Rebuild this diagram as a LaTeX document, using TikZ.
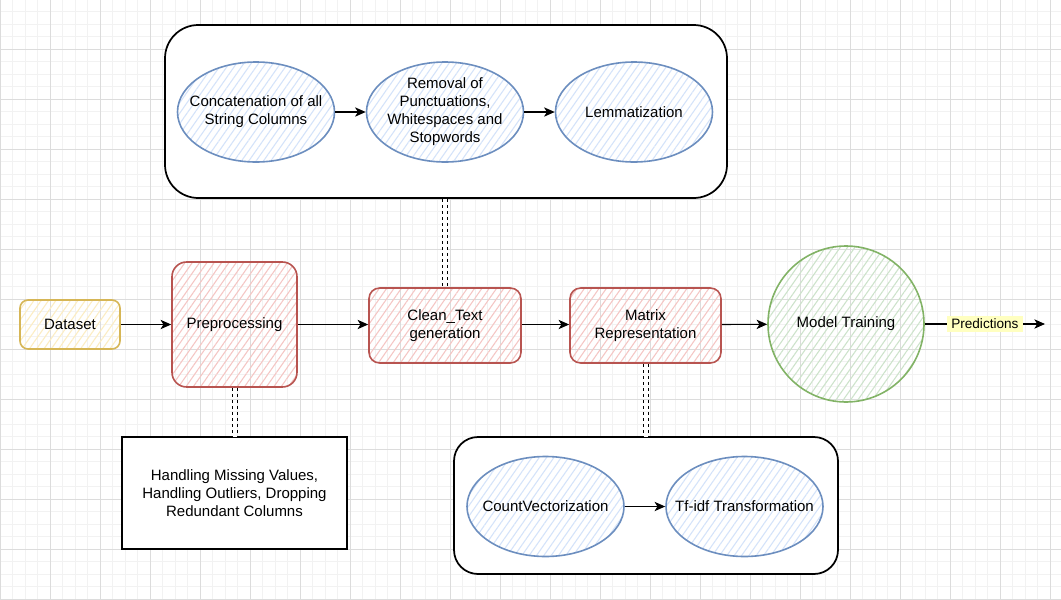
\documentclass[tikz,border=0pt]{standalone}
\usepackage{fontspec}
\setmainfont{Liberation Sans}
\usetikzlibrary{arrows.meta,patterns.meta,shapes.geometric}
\newcommand{\pxu}{0.75pt}
\definecolor{blueS}{HTML}{6C8EBF}
\definecolor{blueF}{HTML}{D4E3FA}
\definecolor{redS}{HTML}{B85450}
\definecolor{redF}{HTML}{F5C6C4}
\definecolor{yelS}{HTML}{D6B656}
\definecolor{yelF}{HTML}{FCEDC2}
\definecolor{greS}{HTML}{82B366}
\definecolor{greF}{HTML}{CDE3CB}
\definecolor{gridMinor}{HTML}{F2F2F2}
\definecolor{gridMajor}{HTML}{DCDCDC}
\definecolor{labelY}{HTML}{FFFFC0}
\begin{document}
\begin{tikzpicture}[x=0.75pt,y=-0.75pt,
  txt/.style={font=\fontsize{11.25}{13.5}\selectfont, align=center, inner sep=0pt, text=black},
  hatch/.style={pattern={Lines[angle=55,distance=4.5pt,line width=0.8pt]}, pattern color=#1},
  redbox/.style={txt, draw=redS, line width=1.2pt, rounded corners=#1, hatch=redF},
  bluell/.style={ellipse, draw=blueS, line width=1.2pt, hatch=blueF, minimum width=157*\pxu, minimum height=100*\pxu, inner sep=0pt},
  container/.style={draw=black, line width=1.3pt, fill=white, rounded corners=#1, inner sep=0pt},
  arr/.style={draw=black, line width=0.8pt, -{Stealth[length=8pt,width=7pt,inset=2.2pt]}},
  dd/.style={draw=black, line width=0.75pt, double=white, double distance=3pt, dash pattern=on 2.5pt off 2pt}
]
\useasboundingbox (0,0) rectangle (1061,600);
\fill[white] (0,0) rectangle (1061,600);
% grid
\foreach \k in {0,...,85} \draw[gridMinor, line width=0.75pt] (\k*12.5,0) -- (\k*12.5,600);
\foreach \k in {0,...,48} \draw[gridMinor, line width=0.75pt] (0,\k*12.5-1) -- (1061,\k*12.5-1);
\foreach \k in {0,...,21} \draw[gridMajor, line width=0.75pt] (\k*50,0) -- (\k*50,600);
\foreach \k in {0,...,12} \draw[gridMajor, line width=0.75pt] (0,\k*50-1) -- (1061,\k*50-1);

% top container
\node[container=25pt, minimum width=562*\pxu, minimum height=173*\pxu] (topc) at (446,111.5) {};
\node[bluell] (e1) at (256,112) {};
\node[txt] (e1t) at (e1) {Concatenation of all\\String Columns};
\node[bluell] (e2) at (445,112) {};
\node[txt] (e2t) at (e2) {Removal of\\Punctuations,\\Whitespaces and\\Stopwords};
\node[bluell] (e3) at (634,112) {};
\node[txt] (e3t) at (e3) {Lemmatization};
\draw[arr] (e1) -- (e2);
\draw[arr] (e2) -- (e3);

% main flow
\node[txt, draw=yelS, line width=1.2pt, rounded corners=6pt, hatch=yelF, minimum width=100*\pxu, minimum height=49*\pxu] (data) at (70,324.5) {Dataset};
\node[redbox=11pt, minimum width=125*\pxu, minimum height=125*\pxu] (prep) at (234.5,324.5) {Preprocessing};
\node[redbox=8pt, minimum width=152*\pxu, minimum height=75*\pxu] (clean) at (445,325.5) {Clean\_Text\\generation};
\node[redbox=8pt, minimum width=151*\pxu, minimum height=75*\pxu] (matrix) at (645.5,325.5) {Matrix\\Representation};
\node[txt, circle, draw=greS, line width=1.2pt, hatch=greF, minimum size=156*\pxu] (model) at (846,324) {Model Training};
\coordinate (predend) at (1045,324);

\draw[arr] (data) -- (prep);
\draw[arr] (prep) -- (clean.west |- prep);
\draw[arr] (clean.east |- prep) -- (matrix.west |- prep);
\draw[arr] (matrix.east |- prep) -- (model);
\draw[arr] (model) -- node[fill=labelY, inner xsep=3pt, inner ysep=2pt, font=\fontsize{10.2}{12}\selectfont] (predl) {Predictions} (predend);

% preprocessing detail
\node[txt, draw=black, line width=1.3pt, fill=white, minimum width=225*\pxu, minimum height=112*\pxu] (hand) at (234.5,493) {Handling Missing Values,\\Handling Outliers, Dropping\\Redundant Columns};

% bottom container
\node[container=18pt, minimum width=384*\pxu, minimum height=137*\pxu] (botc) at (646,505.5) {};
\node[bluell] (cv) at (545.5,506.5) {};
\node[txt] (cvt) at (cv) {CountVectorization};
\node[bluell] (tf) at (744.5,506.5) {};
\node[txt] (tft) at (tf) {Tf-idf Transformation};
\draw[arr] (cv) -- (tf);

% double dashed links
\draw[dd] (topc.south -| clean.north) -- (clean.north);
\draw[dd] (prep.south) -- (hand.north);
\draw[dd] (matrix.south) -- (matrix.south |- botc.north);
\end{tikzpicture}
\end{document}
